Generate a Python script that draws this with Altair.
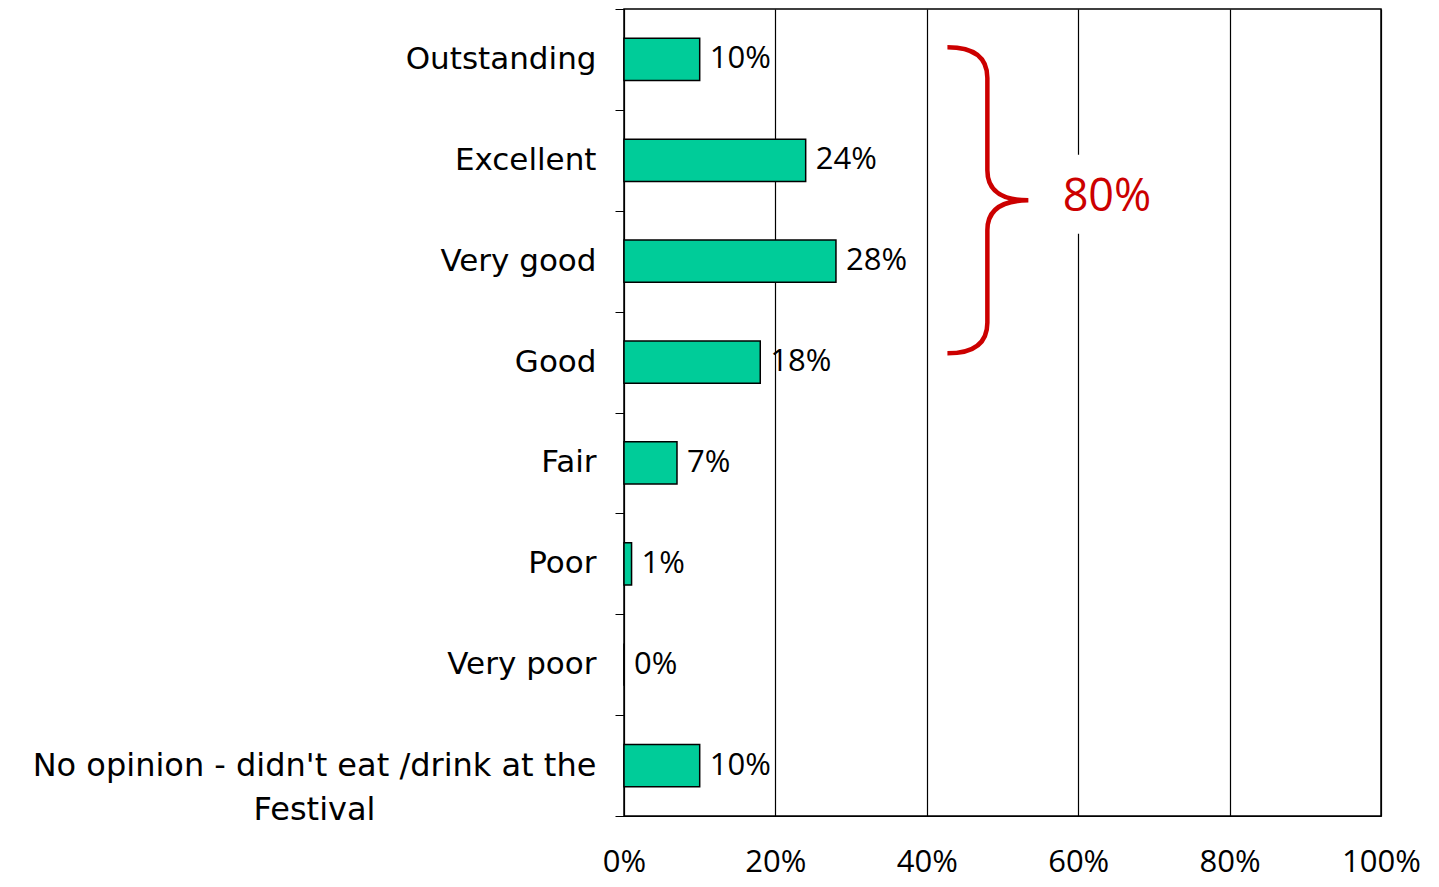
import altair as alt
import pandas as pd

categories = ["Outstanding", "Excellent", "Very good", "Good", "Fair", "Poor",
              "Very poor", "No opinion - didn't eat /drink at the Festival"]
values = [10, 24, 28, 18, 7, 1, 0, 10]
x_ticks = [0, 20, 40, 60, 80, 100]

bracket_total = ["80%"]
bracket_anchor = ["Excellent"]
bracket_x = [48]
label_x = [63.8]
mask_x = [58.5]
mask_x2 = [69]

df = pd.DataFrame({"cat": categories, "val": values,
                   "lab": [f"{v}%" for v in values]})
brace_df = pd.DataFrame({"cat": bracket_anchor, "val": bracket_x})
total_df = pd.DataFrame({"cat": bracket_anchor, "val": label_x, "lab": bracket_total})
mask_df = pd.DataFrame({"cat": bracket_anchor, "val": mask_x, "val2": mask_x2})

is_long = "(isString(datum.value) && indexof(datum.value, ' Festival') > 0)"
label_expr = (is_long + " ? [slice(datum.value, 0, indexof(datum.value, ' Festival')), 'Festival'] "
              ": datum.label")

y_enc = alt.Y("cat:N", sort=categories,
              scale=alt.Scale(domain=categories, paddingInner=0, paddingOuter=0),
              axis=alt.Axis(title=None, domainColor="black", tickColor="black",
                            tickSize=9, tickBand="extent", labelColor="black",
                            labelFont="DejaVu Sans",
                            labelFontSize={"condition": {"test": is_long, "value": 32}, "value": 31},
                            labelLineHeight=44, labelLimit=0,
                            labelAlign={"condition": {"test": is_long, "value": "center"}, "value": "right"},
                            labelPadding={"condition": {"test": is_long, "value": 301}, "value": 19},
                            labelExpr=label_expr))

x_enc = alt.X("val:Q", scale=alt.Scale(domain=[0, 100], nice=False, zero=True),
              axis=alt.Axis(title=None, values=x_ticks, grid=True, gridColor="black",
                            gridOpacity=1, gridWidth=1.2, ticks=False, domainColor="black",
                            labelPadding=31, labelFont="Open Sans", labelFontSize=31,
                            labelColor="black", labelExpr="datum.label + '%'",
                            labelFlush=False))

bars = alt.Chart(df).mark_bar(color="#00CC99", stroke="black", strokeWidth=1.5,
                              height=alt.RelativeBandSize(0.42)).encode(x=x_enc, y=y_enc)

texts = alt.Chart(df).mark_text(align="left", baseline="middle", dx=10,
                                font="Open Sans", fontSize=31, color="black").encode(
    x=x_enc, y=y_enc, text="lab:N")

mask = alt.Chart(mask_df).mark_rect(color="white", height=79, yOffset=34).encode(
    x=x_enc, x2="val2:Q", y=y_enc)

brace_path = ("M -0.261 -1 Q 0 -1 0 -0.8 L 0 -0.196 Q 0 0 0.268 0 "
              "Q 0 0 0 0.196 L 0 0.8 Q 0 1 -0.261 1")
brace = alt.Chart(brace_df).mark_point(shape=brace_path, size=306 * 306, filled=False,
                                       stroke="#CC0000", strokeWidth=4.5, opacity=1,
                                       yOffset=40).encode(x=x_enc, y=y_enc)

total = alt.Chart(total_df).mark_text(font="Open Sans", fontSize=45, color="#CC0000",
                                      baseline="middle", align="center", yOffset=37).encode(
    x=x_enc, y=y_enc, text="lab:N")

chart = alt.layer(bars, mask, texts, brace, total).properties(
    width=757, height=807,
    autosize=alt.AutoSizeParams(type="none"),
    padding={"left": 616, "top": 1, "right": 42, "bottom": 63},
).configure_view(stroke="black", strokeWidth=1.5).configure_axis(grid=False)

chart.save("out.html", embed_options={"renderer": "svg", "actions": False})
